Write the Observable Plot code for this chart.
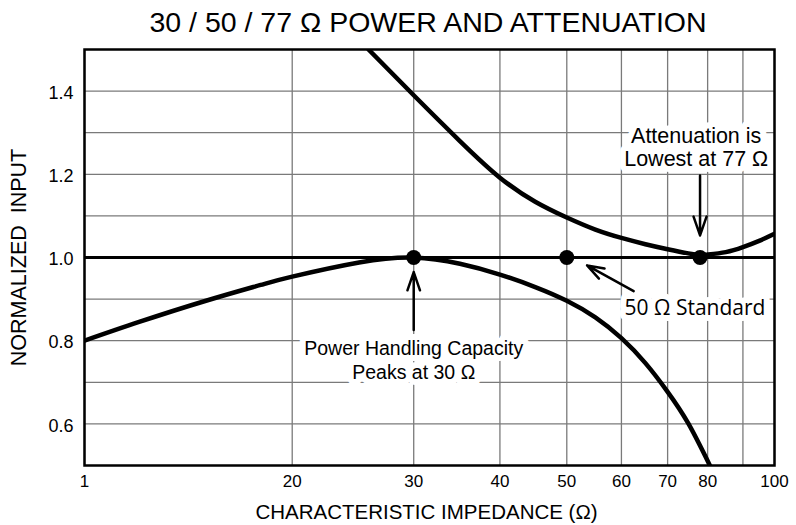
<!DOCTYPE html>
<html>
<head>
<meta charset="utf-8">
<script src="https://cdn.jsdelivr.net/npm/d3@7"></script>
<script src="https://cdn.jsdelivr.net/npm/@observablehq/plot@0.6"></script>
<style>
  html, body { margin: 0; padding: 0; background: white; }
  #chart svg { display: block; }
</style>
</head>
<body>
<div id="chart"></div>
<script>
// ---- data ----
const titleText = "30 / 50 / 77 \u03A9 POWER AND ATTENUATION";
const xLabel = "CHARACTERISTIC IMPEDANCE (\u03A9)";
const yLabel = "NORMALIZED\u00A0\u00A0INPUT";

const xTicks = [10, 20, 30, 40, 50, 60, 70, 80, 90, 100];
const xTickLabels = ["1", "20", "30", "40", "50", "60", "70", "80", "", "100"];
const yGrid = [0.6, 0.7, 0.8, 0.9, 1.0, 1.1, 1.2, 1.3, 1.4];
const yTicks = [0.6, 0.8, 1.0, 1.2, 1.4];

// Attenuation (upper curve)
const attenZ = [25.8, 30, 35, 40, 45, 50, 55, 60, 65, 70, 75, 78, 80, 85, 90, 95, 100];
const attenV = [1.5, 1.39, 1.28, 1.192, 1.134, 1.096, 1.067, 1.047, 1.032, 1.02, 1.01, 1.006, 1.007, 1.013, 1.025, 1.04, 1.057];

// Power handling (lower curve)
const powerZ = [10, 12, 15, 18, 20, 25, 30, 35, 40, 45, 50, 55, 60, 65, 70, 75, 80.6];
const powerV = [0.80, 0.845, 0.896, 0.934, 0.954, 0.988, 1.0, 0.985, 0.959, 0.929, 0.896, 0.856, 0.806, 0.746, 0.677, 0.601, 0.5];

// marked points
const markerZ = [30, 50, 78];
const markerV = [1, 1, 1];

// annotations (data coordinates)
const noteTexts = ["Attenuation is\nLowest at 77 \u03A9", "Power Handling Capacity\nPeaks at 30 \u03A9", "50 \u03A9 Standard"];
const noteZ = [77, 30, 76.7];
const noteV = [1.2656, 0.7546, 0.879];

const arrowZ1 = [78, 30, 62.5];
const arrowV1 = [1.197, 0.826, 0.919];
const arrowZ2 = [78, 30, 53.5];
const arrowV2 = [1.053, 0.965, 0.981];

// ---- tables ----
const atten = attenZ.map((z, i) => ({z, v: attenV[i]}));
const power = powerZ.map((z, i) => ({z, v: powerV[i]}));
const markers = markerZ.map((z, i) => ({z, v: markerV[i]}));
const notes = noteTexts.map((t, i) => ({t, z: noteZ[i], v: noteV[i]}));
const arrows = arrowZ1.map((z, i) => ({x1: z, y1: arrowV1[i], x2: arrowZ2[i], y2: arrowV2[i]}));

const font = "'Liberation Sans', Arial, Helvetica, sans-serif";

const chart = Plot.plot({
  width: 796,
  height: 525,
  marginLeft: 84,
  marginRight: 22,
  marginTop: 49,
  marginBottom: 60,
  style: {fontFamily: font, background: "white", color: "black", overflow: "visible"},
  x: {type: "log", domain: [10, 100]},
  y: {domain: [0.5, 1.5]},
  marks: [
    Plot.gridX(xTicks, {stroke: "#7a7a7a", strokeOpacity: 1, strokeWidth: 1.3}),
    Plot.gridY(yGrid, {stroke: "#7a7a7a", strokeOpacity: 1, strokeWidth: 1.3}),
    Plot.ruleY([1], {stroke: "black", strokeWidth: 2.8}),
    Plot.line(atten, {x: "z", y: "v", curve: "natural", stroke: "black", strokeWidth: 4.5, clip: true}),
    Plot.line(power, {x: "z", y: "v", curve: "natural", stroke: "black", strokeWidth: 4.5, clip: true}),
    Plot.text(notes.slice(0, 1), {x: "z", y: "v", text: "t", fontSize: 21.5, lineHeight: 1.084, fill: "black", stroke: "white", strokeWidth: 12, strokeLinejoin: "round"}),
    Plot.text(notes.slice(1, 2), {x: "z", y: "v", text: "t", fontSize: 19.5, lineHeight: 1.23, fill: "black", stroke: "white", strokeWidth: 12, strokeLinejoin: "round"}),
    Plot.text(notes.slice(2, 3), {x: "z", y: "v", text: "t", fontSize: 21, fontFamily: "'Open Sans', 'Noto Sans', sans-serif", fill: "black", stroke: "white", strokeWidth: 12, strokeLinejoin: "round"}),
    Plot.arrow(arrows, {x1: "x1", y1: "y1", x2: "x2", y2: "y2", stroke: "black", strokeWidth: 2.5, headLength: 22, headAngle: 38}),
    Plot.dot(markers, {x: "z", y: "v", r: 7.5, fill: "black"}),
    Plot.frame({stroke: "black", strokeWidth: 2.5}),
    Plot.axisX({ticks: xTicks, tickSize: 0, tickPadding: 9, fontSize: 17, label: null,
      tickFormat: d => xTickLabels[xTicks.indexOf(d)]}),
    Plot.axisY({ticks: yTicks, tickSize: 0, tickPadding: 11, fontSize: 18, label: null, dy: 2,
      tickFormat: d => d.toFixed(1)}),
    Plot.text([titleText], {frameAnchor: "top", lineAnchor: "middle", textAnchor: "middle", dy: -27, dx: -1.5, fontSize: 28.5, text: d => d, fill: "black"}),
    Plot.text([yLabel], {frameAnchor: "left", lineAnchor: "middle", textAnchor: "middle", rotate: -90, dx: -65, fontSize: 21.5, text: d => d, fill: "black"}),
    Plot.text([xLabel], {frameAnchor: "bottom", lineAnchor: "middle", textAnchor: "middle", dy: 47, dx: -3, fontSize: 20.5, text: d => d, fill: "black"})
  ]
});

document.getElementById("chart").appendChild(chart);
</script>
</body>
</html>
